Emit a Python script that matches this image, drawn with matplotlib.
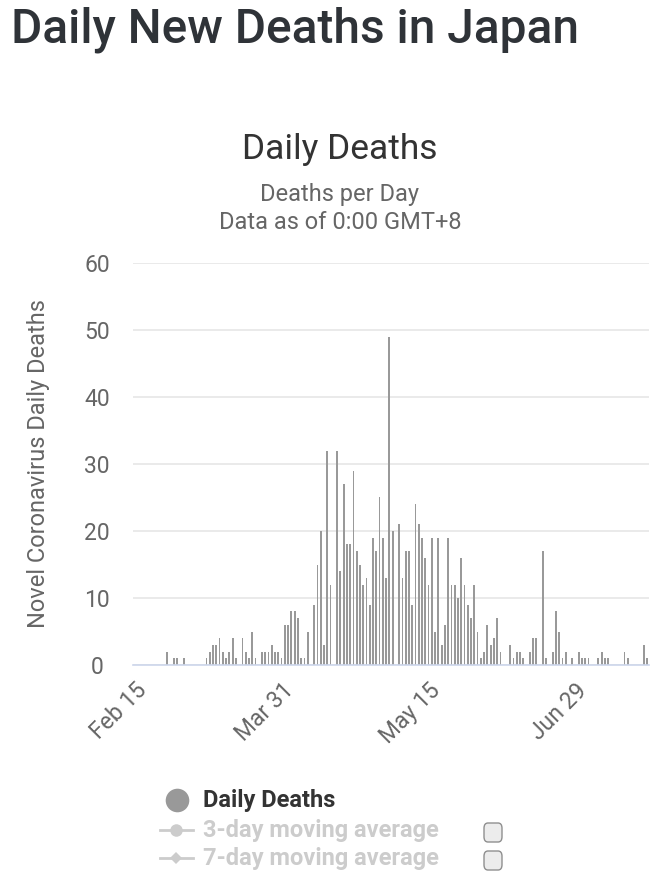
import numpy as np
import pandas as pd
import matplotlib
matplotlib.use("Agg")
import matplotlib.pyplot as plt
from matplotlib.lines import Line2D
from matplotlib.patches import FancyBboxPatch

plt.rcParams['font.family'] = ['Roboto', 'DejaVu Sans']

# daily deaths, Feb 15 .. Jul 21 (0 where no bar)
dates = pd.date_range("2020-02-15", "2020-07-21", freq="D")
deaths_by_day = {
    10: 2, 12: 1, 13: 1, 15: 1,
    22: 1, 23: 2, 24: 3, 25: 3, 26: 4, 27: 2, 28: 1, 29: 2, 30: 4, 31: 1,
    33: 4, 34: 2, 35: 1, 36: 5, 37: 1, 39: 2, 40: 2, 41: 2, 42: 3, 43: 2,
    44: 2, 45: 1, 46: 6, 47: 6, 48: 8, 49: 8, 50: 7, 51: 1, 52: 1, 53: 5,
    55: 9, 56: 15, 57: 20, 58: 3, 59: 32, 60: 12, 62: 32, 63: 14, 64: 27,
    65: 18, 66: 18, 67: 29, 68: 17, 69: 15, 70: 12, 71: 13, 72: 9, 73: 19,
    74: 17, 75: 25, 76: 19, 77: 13, 78: 49, 79: 20, 81: 21, 82: 13, 83: 17,
    84: 17, 85: 9, 86: 24, 87: 21, 88: 19, 89: 16, 90: 12, 91: 19, 92: 5,
    93: 19, 94: 3, 95: 6, 96: 19, 97: 12, 98: 12, 99: 10, 100: 16, 101: 12,
    102: 9, 103: 7, 104: 12, 105: 5, 106: 1, 107: 2, 108: 6, 109: 3, 110: 4,
    111: 7, 112: 2, 115: 3, 116: 1, 117: 2, 118: 2, 119: 1, 121: 2, 122: 4,
    123: 4, 125: 17, 126: 1, 128: 2, 129: 8, 130: 5, 131: 1, 132: 2, 134: 1,
    136: 2, 137: 1, 138: 1, 139: 1, 142: 1, 143: 2, 144: 1, 145: 1, 150: 2,
    151: 1, 156: 3, 157: 1,
}
deaths = np.array([deaths_by_day.get(i, 0) for i in range(len(dates))])

tick_idx = [0, 45, 90, 135]
tick_labels = [dates[i].strftime("%b %d").replace(" 0", " ") for i in tick_idx]
y_ticks = [0, 10, 20, 30, 40, 50, 60]

W, H = 661, 875
fig = plt.figure(figsize=(W / 100, H / 100), dpi=100)
fig.patch.set_facecolor("white")

def fx(px):
    return px / W

def fy(py):
    return 1 - py / H

# page title
fig.text(fx(11), fy(30), "Daily New Deaths in Japan", fontsize=34.5, fontweight="medium",
         color="#2f3338", ha="left", va="center")

# chart titles
fig.text(fx(340), fy(150), "Daily Deaths", fontsize=25.5, color="#333333", ha="center", va="center")
fig.text(fx(340), fy(195), "Deaths per Day", fontsize=17, color="#666666", ha="center", va="center")
fig.text(fx(340), fy(222), "Data as of 0:00 GMT+8", fontsize=17, color="#666666", ha="center", va="center")

ax = fig.add_axes([fx(133), fy(665), fx(649) - fx(133), fy(263) - fy(665)])
x = np.arange(len(dates))
ax.bar(x, deaths, width=0.55, color="#999999", zorder=3)

ax.set_xlim(-0.5, len(dates) - 0.5)
ax.set_ylim(0, 60)
ax.set_yticks(y_ticks)
ax.set_yticklabels([str(v) for v in y_ticks])
ax.grid(axis="y", color="#e6e6e6", linewidth=1.2, zorder=0)
for s in ["top", "right", "left"]:
    ax.spines[s].set_visible(False)
ax.spines["bottom"].set_color("#ccd6eb")
ax.spines["bottom"].set_linewidth(1.2)
ax.spines["bottom"].set_zorder(4)
ax.tick_params(axis="y", length=0, pad=26, labelsize=16.5, labelcolor="#666666")
ax.set_xticks(tick_idx)
ax.set_xticklabels(tick_labels, rotation=45, ha="right", va="top", rotation_mode="anchor")
ax.tick_params(axis="x", length=0, pad=10, labelsize=16.5, labelcolor="#666666")
for lbl in ax.get_yticklabels():
    lbl.set_horizontalalignment("center")
ax.set_ylabel("Novel Coronavirus Daily Deaths", fontsize=17, color="#666666")
ax.yaxis.set_label_coords(-(133 - 50) / (649 - 133), 0.5)

# legend
fig.add_artist(Line2D([fx(177)], [fy(800)], marker="o", markersize=17, color="#999999",
                      markeredgewidth=0, transform=fig.transFigure))
fig.text(fx(203), fy(801), "Daily Deaths", fontsize=17, fontweight="bold", color="#333333",
         ha="left", va="center")
legend_rows = [(830, "o", "3-day moving average"), (858, "D", "7-day moving average")]
for py, mk, label in legend_rows:
    fig.add_artist(Line2D([fx(160), fx(193)], [fy(py), fy(py)], color="#cccccc", linewidth=2,
                          transform=fig.transFigure))
    fig.add_artist(Line2D([fx(176)], [fy(py)], marker=mk, markersize=9 if mk == "o" else 6,
                          color="#cccccc", markeredgewidth=0, transform=fig.transFigure))
    fig.text(fx(203), fy(py), label, fontsize=17, fontweight="bold", color="#cccccc",
             ha="left", va="center")
    box = FancyBboxPatch((fx(484), fy(py + 12)), fx(18), 19 / H,
                         boxstyle="round,pad=0,rounding_size=0.006",
                         facecolor="#ececec", edgecolor="#8f8f8f", linewidth=1,
                         transform=fig.transFigure)
    fig.add_artist(box)

fig.savefig("out.png", dpi=100, facecolor="white")
